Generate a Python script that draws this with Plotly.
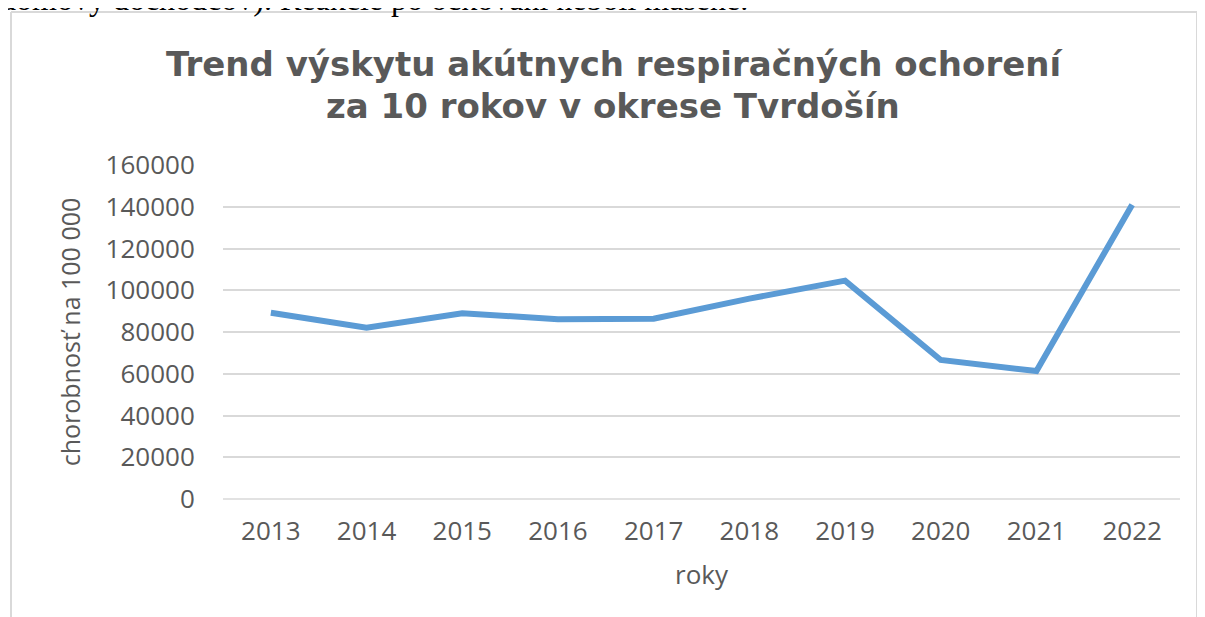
import plotly.graph_objects as go

years = ["2013", "2014", "2015", "2016", "2017", "2018", "2019", "2020", "2021", "2022"]
values = [89200, 82100, 89000, 86100, 86400, 96000, 104600, 66600, 61300, 141000]
y_ticks = [0, 20000, 40000, 60000, 80000, 100000, 120000, 140000, 160000]

title_line1 = "Trend výskytu akútnych respiračných ochorení"
title_line2 = "za 10 rokov v okrese Tvrdošín"
y_title = "chorobnosť na 100 000"
x_title = "roky"
above_text = "domový dôchodcov). Reakcie po očkovaní neboli masené."

OFF = 8  # page body margin
W, H = 1205, 617
# plot area in screen pixels: x 223..1180, y 165..499
L = 223 - OFF
T = 165 - OFF
R = W - (1180 - OFF)
B = H - (499 - OFF)

pw = W - L - R
ph = H - T - B
def px_x(s):
    return (s - OFF - L) / pw
def px_y(s):
    return (H - B - (s - OFF)) / ph

GRAY = "#595959"

fig = go.Figure()
fig.add_trace(go.Scatter(
    x=years, y=values, mode="lines",
    line=dict(color="#5B9BD5", width=6),
    hoverinfo="x+y", showlegend=False,
))

fig.update_layout(
    width=W, height=H,
    margin=dict(l=L, r=R, t=T, b=B, pad=0, autoexpand=False),
    paper_bgcolor="white", plot_bgcolor="white",
    xaxis=dict(
        type="category", range=[-0.5, 9.5], automargin=False,
        showgrid=False, zeroline=False, showline=False,
        ticks="outside", ticklen=0, ticklabelstandoff=9,
        tickfont=dict(family="Open Sans", size=26, color=GRAY),
        title=dict(text=x_title, standoff=18,
                   font=dict(family="Open Sans", size=26, color=GRAY)),
    ),
    yaxis=dict(
        range=[0, 160000], tickvals=y_ticks, ticktext=[str(v) for v in y_ticks],
        automargin=False,
        showgrid=True, gridcolor="#D9D9D9", gridwidth=1.5,
        zeroline=False, showline=False,
        ticks="outside", ticklen=0, ticklabelstandoff=22,
        tickfont=dict(family="Open Sans", size=26, color=GRAY),
        title=dict(text=y_title, standoff=17,
                   font=dict(family="Open Sans", size=25, color=GRAY)),
    ),
    shapes=[
        dict(type="line", xref="paper", yref="paper",
             x0=0, x1=1, y0=0, y1=0, layer="below",
             line=dict(color="#D9D9D9", width=1.5)),
        dict(type="line", xref="paper", yref="paper",
             x0=px_x(11), x1=px_x(11), y0=px_y(12), y1=px_y(640),
             line=dict(color="#D9D9D9", width=2)),
        dict(type="line", xref="paper", yref="paper",
             x0=px_x(11), x1=px_x(1197), y0=px_y(12), y1=px_y(12),
             line=dict(color="#D9D9D9", width=2)),
        dict(type="line", xref="paper", yref="paper",
             x0=px_x(1197), x1=px_x(1197), y0=px_y(12), y1=px_y(640),
             line=dict(color="#D9D9D9", width=2)),
    ],
    annotations=[
        dict(text=title_line1, xref="paper", yref="paper",
             x=px_x(614), y=px_y(64), xanchor="center", yanchor="middle",
             showarrow=False,
             font=dict(family="DejaVu Sans", size=34, color=GRAY, weight="bold")),
        dict(text=title_line2, xref="paper", yref="paper",
             x=px_x(613), y=px_y(106), xanchor="center", yanchor="middle",
             showarrow=False,
             font=dict(family="DejaVu Sans", size=34, color=GRAY, weight="bold")),
        dict(text=above_text, xref="paper", yref="paper",
             x=px_x(-2), y=px_y(19), xanchor="left", yanchor="bottom",
             showarrow=False,
             font=dict(family="Liberation Serif", size=32, color="black")),
    ],
)

fig.write_html("out.html")
